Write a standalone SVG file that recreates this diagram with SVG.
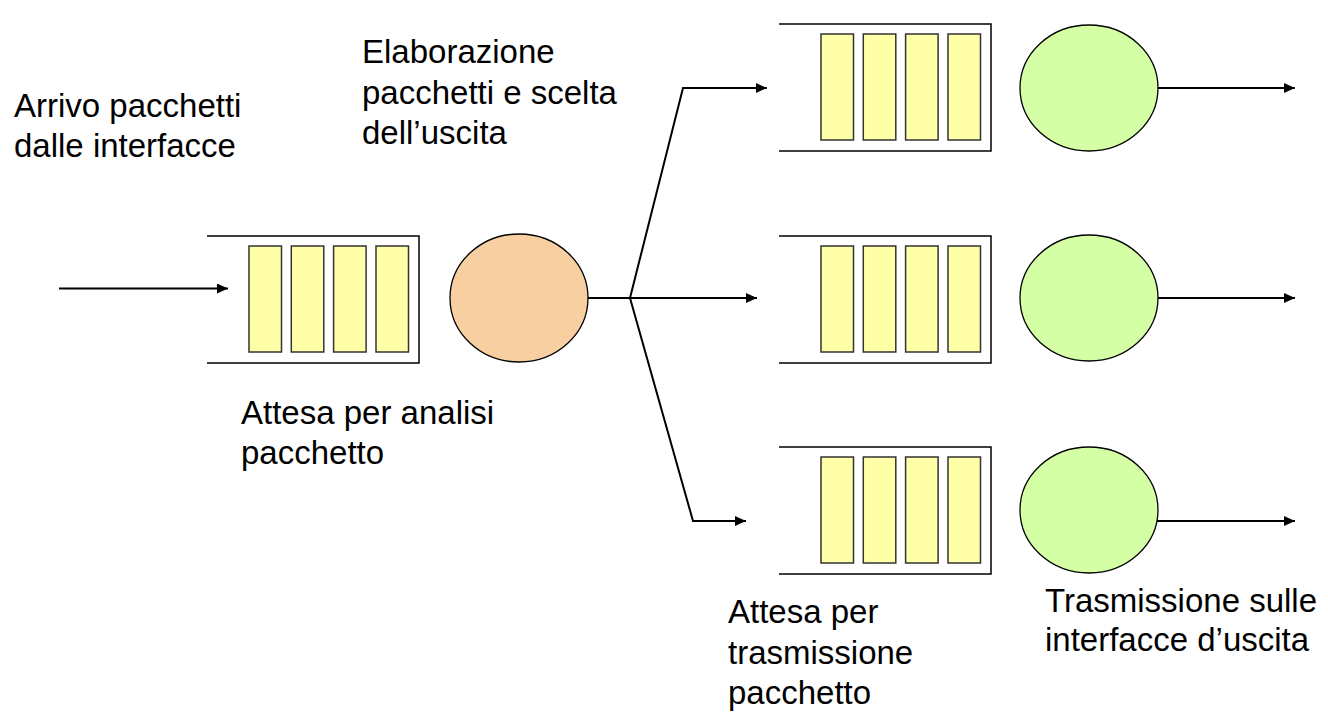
<svg xmlns="http://www.w3.org/2000/svg" xmlns:xlink="http://www.w3.org/1999/xlink" width="1328" height="724" viewBox="0 0 1328 724">
<style>
  .lbl { font-family: "Liberation Sans", Arial, sans-serif; font-size: 33px; fill: #000; }
  .box { fill: none; stroke: #000; stroke-width: 1.5; }
  .bar { fill: #FFFFA8; stroke: #333; stroke-width: 1.5; }
  .conn { fill: none; stroke: #000; stroke-width: 2; }
  .srv-in { fill: #F7CFA1; stroke: #000; stroke-width: 1.3; }
  .srv-out { fill: #D5FFA4; stroke: #000; stroke-width: 1.3; }
</style>
<defs>
  <marker id="arr" markerUnits="userSpaceOnUse" markerWidth="11" markerHeight="10" refX="11" refY="5" orient="auto">
    <path d="M0,0 L11,5 L0,10 z" fill="#000"/>
  </marker>
  <g id="queue">
    <path class="box" d="M0,0 H212 V127 H0"/>
    <rect class="bar" x="42" y="10" width="32.5" height="106"/>
    <rect class="bar" x="84.3" y="10" width="32.5" height="106"/>
    <rect class="bar" x="126.6" y="10" width="32.5" height="106"/>
    <rect class="bar" x="169" y="10" width="32.5" height="106"/>
  </g>
</defs>
<rect width="1328" height="724" fill="#fff"/>

<g id="connectors">
  <path class="conn" d="M59,288.5 H228" marker-end="url(#arr)"/>
  <path class="conn" d="M588,298 H630"/>
  <path class="conn" d="M630,298 L683,88 H767" marker-end="url(#arr)"/>
  <path class="conn" d="M630,298 H757" marker-end="url(#arr)"/>
  <path class="conn" d="M630,298 L693,521 H746" marker-end="url(#arr)"/>
  <path class="conn" d="M1158,88 H1295" marker-end="url(#arr)"/>
  <path class="conn" d="M1158,298 H1295" marker-end="url(#arr)"/>
  <path class="conn" d="M1157,521 H1295" marker-end="url(#arr)"/>
</g>

<g id="queue-in"><use xlink:href="#queue" href="#queue" transform="translate(207,236)"/></g>
<g id="server-in"><ellipse class="srv-in" cx="519" cy="298" rx="69" ry="64"/></g>

<g id="queue-out-1"><use xlink:href="#queue" href="#queue" transform="translate(779,24)"/></g>
<g id="queue-out-2"><use xlink:href="#queue" href="#queue" transform="translate(779,236)"/></g>
<g id="queue-out-3"><use xlink:href="#queue" href="#queue" transform="translate(779,447)"/></g>

<g id="server-out-1"><ellipse class="srv-out" cx="1089" cy="88" rx="69" ry="63"/></g>
<g id="server-out-2"><ellipse class="srv-out" cx="1089" cy="298" rx="69" ry="63"/></g>
<g id="server-out-3"><ellipse class="srv-out" cx="1089" cy="510" rx="69" ry="63"/></g>

<g id="labels">
  <text class="lbl" x="14" y="117">Arrivo pacchetti</text>
  <text class="lbl" x="14" y="157">dalle interfacce</text>
  <text class="lbl" x="362" y="63">Elaborazione</text>
  <text class="lbl" x="362" y="104">pacchetti e scelta</text>
  <text class="lbl" x="362" y="144">dell’uscita</text>
  <text class="lbl" x="241" y="424">Attesa per analisi</text>
  <text class="lbl" x="241" y="464">pacchetto</text>
  <text class="lbl" x="728" y="623">Attesa per</text>
  <text class="lbl" x="728" y="664">trasmissione</text>
  <text class="lbl" x="728" y="704">pacchetto</text>
  <text class="lbl" x="1045" y="612">Trasmissione sulle</text>
  <text class="lbl" x="1045" y="651">interfacce d’uscita</text>
</g>
</svg>
